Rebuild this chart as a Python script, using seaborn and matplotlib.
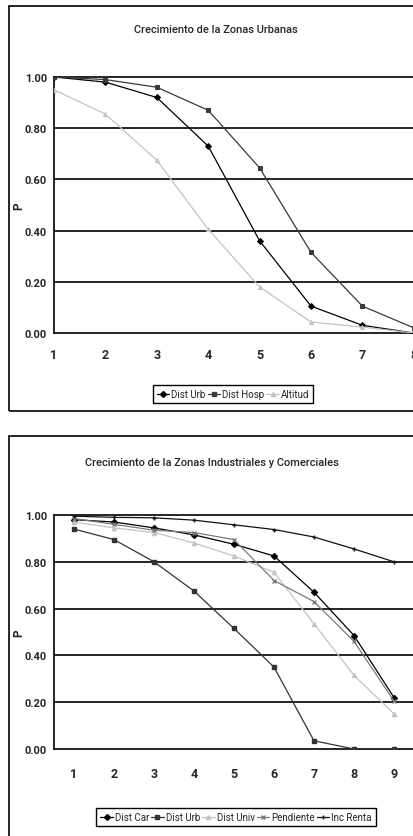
import matplotlib
matplotlib.use("Agg")
import matplotlib.pyplot as plt
import seaborn as sns
import pandas as pd
from matplotlib.patches import Rectangle
from matplotlib.lines import Line2D

sns.set_theme(style="white")
plt.rcParams['font.family'] = ['Roboto', 'DejaVu Sans']

# ---- data: top chart ----
top_title = "Crecimiento de la Zonas Urbanas"
top_x = [1, 2, 3, 4, 5, 6, 7, 8]
top_dist_urb = [1.00, 0.98, 0.92, 0.73, 0.36, 0.105, 0.03, 0.00]
top_dist_hosp = [1.00, 0.99, 0.96, 0.87, 0.645, 0.315, 0.105, 0.02]
top_altitud = [0.95, 0.855, 0.675, 0.405, 0.18, 0.043, 0.023, 0.00]
top_names = ["Dist Urb", "Dist Hosp", "Altitud"]

# ---- data: bottom chart ----
bot_title = "Crecimiento de la Zonas Industriales y Comerciales"
bot_x = [1, 2, 3, 4, 5, 6, 7, 8, 9]
bot_dist_car = [0.98, 0.97, 0.945, 0.915, 0.875, 0.825, 0.67, 0.485, 0.22]
bot_dist_urb = [0.94, 0.895, 0.80, 0.675, 0.515, 0.35, 0.035, 0.00, 0.00]
bot_dist_univ = [0.97, 0.945, 0.925, 0.88, 0.825, 0.755, 0.535, 0.315, 0.15]
bot_pendiente = [0.985, 0.96, 0.935, 0.925, 0.895, 0.72, 0.63, 0.46, 0.205]
bot_inc_renta = [0.995, 0.99, 0.988, 0.978, 0.958, 0.938, 0.906, 0.855, 0.80]
bot_names = ["Dist Car", "Dist Urb", "Dist Univ", "Pendiente", "Inc Renta"]

y_ticks = [0.0, 0.2, 0.4, 0.6, 0.8, 1.0]
y_ticklabels = ["0.00", "0.20", "0.40", "0.60", "0.80", "1.00"]

W, H = 413, 837
fig = plt.figure(figsize=(W / 100, H / 100), dpi=100)
fig.patch.set_facecolor("white")

def fx(px):
    return px / W

def fy(py):
    return 1 - py / H

# outer frames
fig.patches.append(Rectangle((fx(9), fy(412)), fx(430) - fx(9), fy(7) - fy(412),
                             transform=fig.transFigure, fill=False, edgecolor="black", lw=1.2))
fig.patches.append(Rectangle((fx(9), fy(860)), fx(430) - fx(9), fy(437) - fy(860),
                             transform=fig.transFigure, fill=False, edgecolor="black", lw=1.2))

ytick_font = dict(fontsize=8, fontweight="bold")
xtick_font = dict(fontsize=9, fontweight="bold")

def style_axes(ax):
    ax.set_facecolor("none")
    for s in ["top", "right"]:
        ax.spines[s].set_visible(False)
    ax.spines["left"].set_color("black")
    ax.spines["bottom"].set_color("black")
    ax.spines["left"].set_linewidth(1.2)
    ax.spines["bottom"].set_linewidth(1.2)
    ax.set_ylim(0, 1.0)
    ax.set_yticks(y_ticks)
    ax.set_yticklabels(y_ticklabels, **ytick_font)
    for yv in y_ticks[1:]:
        ax.axhline(yv, color="black", lw=1.2, zorder=1, clip_on=False)
    ax.tick_params(axis="y", direction="out", length=4, width=1, color="black", pad=1)

def set_p_label(ax):
    ax.set_ylabel("P", fontsize=8.5, fontweight="bold")
    ax.yaxis.set_label_coords((25 - 54) / 359, 0.5)

# ---- top chart ----
ax1 = fig.add_axes([fx(54), fy(334), fx(413) - fx(54) + 0.002, fy(78) - fy(334)])
style_axes(ax1)
top_series = [top_dist_urb, top_dist_hosp, top_altitud]
top_colors = ["#000000", "#3a3a3a", "#c4c4c4"]
top_markers = ["D", "s", "^"]
for name, vals, c, m in zip(top_names, top_series, top_colors, top_markers):
    df = pd.DataFrame({"x": top_x, "P": vals})
    sns.lineplot(data=df, x="x", y="P", ax=ax1, color=c, marker=m, markersize=3,
                 markeredgecolor=c, lw=0.9, zorder=3, legend=False)
ax1.set_xlim(1, 8)
ax1.set_xticks(top_x)
ax1.set_xticklabels([str(v) for v in top_x], **xtick_font)
ax1.tick_params(axis="x", direction="out", length=4, width=1, color="black", pad=7)
ax1.set_xlabel("")
set_p_label(ax1)
ax1.text(0.45, (78 - 30) / 256 + 1.0, top_title, transform=ax1.transAxes,
         ha="center", va="center", fontsize=8, fontweight="medium")

h1 = [Line2D([0], [0], color=c, marker=m, markersize=3, lw=0.9)
      for c, m in zip(top_colors, top_markers)]
fig.legend(h1, top_names, loc="center", bbox_to_anchor=(fx(233), fy(395)), ncol=3,
           frameon=True, fancybox=False, edgecolor="black", framealpha=1,
           fontsize=7, handlelength=1.3, handletextpad=0.2, columnspacing=0.2,
           borderpad=0.4, borderaxespad=0)

# ---- bottom chart ----
ax2 = fig.add_axes([fx(54), fy(750), fx(414) - fx(54), fy(516) - fy(750)])
style_axes(ax2)
bot_series = [bot_dist_car, bot_dist_urb, bot_dist_univ, bot_pendiente, bot_inc_renta]
bot_colors = ["#000000", "#333333", "#c4c4c4", "#7a7a7a", "#111111"]
bot_markers = ["D", "s", "^", "x", "+"]
for name, vals, c, m in zip(bot_names, bot_series, bot_colors, bot_markers):
    df = pd.DataFrame({"x": bot_x, "P": vals})
    sns.lineplot(data=df, x="x", y="P", ax=ax2, color=c, marker=m, markersize=3,
                 markeredgecolor=c, markeredgewidth=1.0, lw=0.9, zorder=3, legend=False)
ax2.set_xlim(0.5, 9.5)
ax2.set_xticks(bot_x)
ax2.set_xticklabels([str(v) for v in bot_x], **xtick_font)
ax2.set_xticks([v + 0.5 for v in bot_x[:-1]], minor=True)
ax2.tick_params(axis="x", which="major", length=0, pad=13)
ax2.tick_params(axis="x", which="minor", direction="out", length=4, width=1, color="black")
ax2.set_xlabel("")
set_p_label(ax2)
ax2.text(0.44, (516 - 463) / 234 + 1.0, bot_title, transform=ax2.transAxes,
         ha="center", va="center", fontsize=8, fontweight="medium")

h2 = [Line2D([0], [0], color=c, marker=m, markersize=3, lw=0.9)
      for c, m in zip(bot_colors, bot_markers)]
fig.legend(h2, bot_names, loc="center", bbox_to_anchor=(fx(236), fy(818)), ncol=5,
           frameon=True, fancybox=False, edgecolor="black", framealpha=1,
           fontsize=7, handlelength=1.3, handletextpad=0.2, columnspacing=0.2,
           borderpad=0.4, borderaxespad=0)

fig.savefig("out.png", dpi=100, facecolor="white")
